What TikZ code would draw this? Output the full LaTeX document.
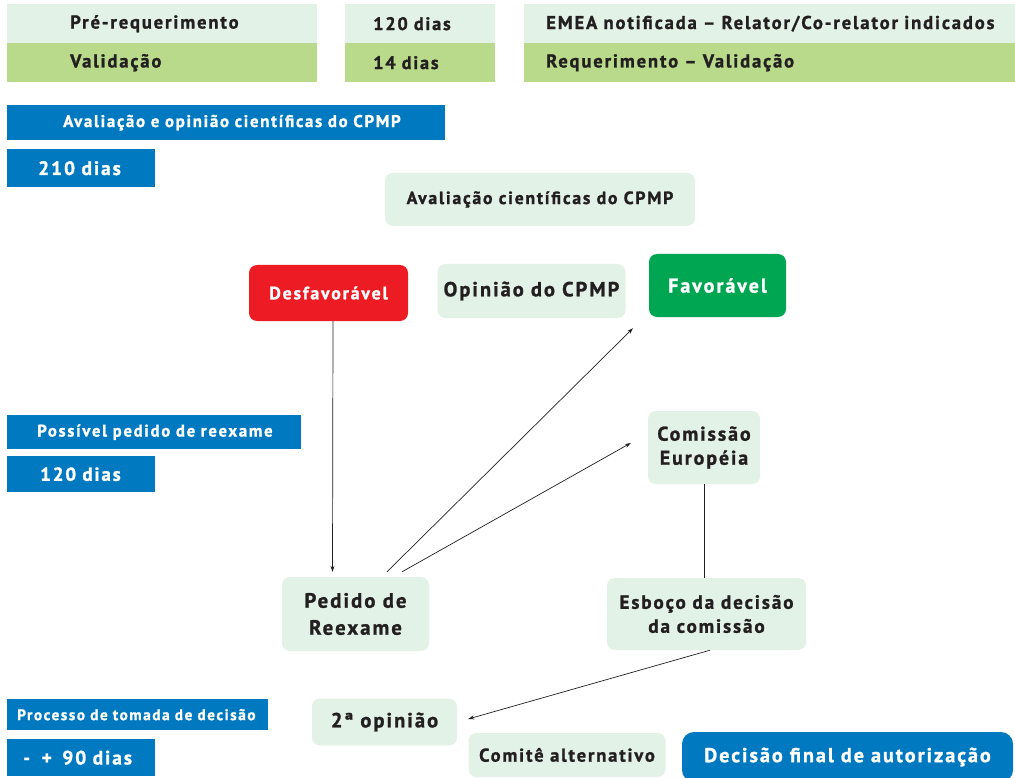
\documentclass[tikz,border=0pt]{standalone}
\usepackage{fontspec}
\setmainfont{PT Sans}[LetterSpace=10, BoldFeatures={FakeBold=1.2}]
\usetikzlibrary{arrows.meta}
\definecolor{txt}{HTML}{231F20}
\definecolor{ltg}{HTML}{E2F2E6}
\definecolor{barg}{HTML}{B9D98B}
\definecolor{blu}{HTML}{0079C1}
\definecolor{redc}{HTML}{ED1C24}
\definecolor{grn}{HTML}{00A651}
\newcommand\fs[2]{\bfseries\fontsize{#1}{#2}\selectfont}
\tikzset{
  sq/.style={inner sep=0pt, anchor=north west, align=left, text=txt},
  rb/.style={rounded corners=8pt, fill=ltg, inner sep=0pt, align=center, text=txt},
  arr/.style={draw=txt, line width=0.7pt, -{Stealth[length=6pt,width=4pt]}},
  ln/.style={draw=txt, line width=0.7pt}
}
\begin{document}
\begin{tikzpicture}[x=1pt,y=-1pt]
\clip (0,0) rectangle (1015,778);
\fill[white] (0,0) rectangle (1015,778);
% top bars
\node[sq, fill=ltg, text width=310pt, minimum height=39pt, font=\fs{18.6}{22}] (pre) at (7,4) {\noindent\hspace*{63pt}Pré-requerimento};
\node[sq, fill=barg, text width=310pt, minimum height=39pt, font=\fs{18.6}{22}] (val) at (7,43) {\noindent\hspace*{63pt}Validação};
\node[sq, fill=ltg, text width=150pt, minimum height=39pt, font=\fs{18.2}{22}] (d120) at (345,4) {\noindent\hspace*{28pt}120 dias};
\node[sq, fill=barg, text width=150pt, minimum height=39pt, font=\fs{18.2}{22}] (d14) at (345,43) {\noindent\hspace*{28pt}14 dias};
\node[sq, fill=ltg, text width=491pt, minimum height=39pt, font=\fs{18.6}{22}] (emea) at (524,4) {\noindent\hspace*{22pt}EMEA notificada – Relator/Co-relator indicados};
\node[sq, fill=barg, text width=491pt, minimum height=39pt, font=\fs{18.6}{22}] (req) at (524,43) {\noindent\hspace*{22pt}Requerimento – Validação};
% blue side bars
\node[sq, fill=blu, text=white, text width=438pt, minimum height=35pt, font=\fs{16.9}{20}] (avop) at (7,105) {\noindent\hspace*{56pt}Avaliação e opinião científicas do CPMP};
\node[sq, fill=blu, text=white, text width=148pt, minimum height=38pt, font=\fs{19.4}{23}] (d210) at (7,149) {\noindent\hspace*{31pt}210 dias};
\node[sq, fill=blu, text=white, text width=294pt, minimum height=34pt, font=\fs{16.8}{20}] (poss) at (7,415) {\noindent\hspace*{30pt}Possível pedido de reexame};
\node[sq, fill=blu, text=white, text width=148pt, minimum height=36pt, font=\fs{18.9}{22}] (d120b) at (7,456) {\noindent\hspace*{33pt}120 dias};
\node[sq, fill=blu, text=white, text width=261pt, minimum height=31pt, font=\fs{15.3}{18}] (proc) at (7,699) {\noindent\hspace*{10pt}Processo de tomada de decisão};
\node[sq, fill=blu, text=white, text width=148pt, minimum height=37pt, font=\fs{19.4}{23}] (d90) at (7,739) {\noindent\hspace*{16pt}-\hspace{5pt} +\hspace{4pt} 90 dias};
% rounded boxes
\node[rb, minimum width=310pt, minimum height=53pt, font=\fs{17.7}{21}] (avc) at (540,199.5) {Avaliação científicas do CPMP};
\node[rb, fill=redc, text=white, minimum width=159pt, minimum height=56pt, font=\fs{17.9}{21}] (desf) at (328.5,293) {Desfavorável};
\node[rb, minimum width=188pt, minimum height=54pt, font=\fs{20.4}{24}] (opin) at (531.5,291) {Opinião do CPMP};
\node[rb, fill=grn, text=white, minimum width=137pt, minimum height=63pt, font=\fs{20}{24}] (fav) at (717.5,285.5) {Favorável};
\node[rb, minimum width=112pt, minimum height=73pt, font=\fs{19.8}{24}] (com) at (704,447.5) {Comissão\\Européia};
\node[rb, minimum width=147pt, minimum height=74pt, font=\fs{20.7}{27}] (ped) at (355.5,614) {Pedido de\\Reexame};
\node[rb, minimum width=199pt, minimum height=72pt, font=\fs{19.1}{24}] (esb) at (706.5,614) {Esboço da decisão\\da comissão};
\node[rb, minimum width=145pt, minimum height=47pt, font=\fs{20.5}{24}] (seg) at (384.5,722) {2ª opinião};
\node[rb, minimum width=197pt, minimum height=44pt, font=\fs{18.5}{22}] (comt) at (567,755) {Comitê alternativo};
\node[rb, fill=blu, text=white, rounded corners=12pt, minimum width=331pt, minimum height=50pt, font=\fs{20.1}{24}] (dfin) at (847.5,757) {Decisão final de autorização};
% connectors
\draw[arr] ([xshift=4.5pt]desf.south) -- ([xshift=-23pt,yshift=5pt]ped.north);
\draw[arr] ([xshift=31.5pt,yshift=5pt]ped.north) -- ([xshift=-84.5pt,yshift=-11pt]fav.south);
\draw[arr] ([xshift=46.5pt,yshift=5pt]ped.north) -- ([xshift=-17pt,yshift=4.5pt]com.west);
\draw[ln] (com.south) -- (com.south |- esb.north);
\draw[arr] ([xshift=3.5pt]esb.south) -- ([xshift=11pt,yshift=3pt]seg.east);
\end{tikzpicture}
\end{document}
